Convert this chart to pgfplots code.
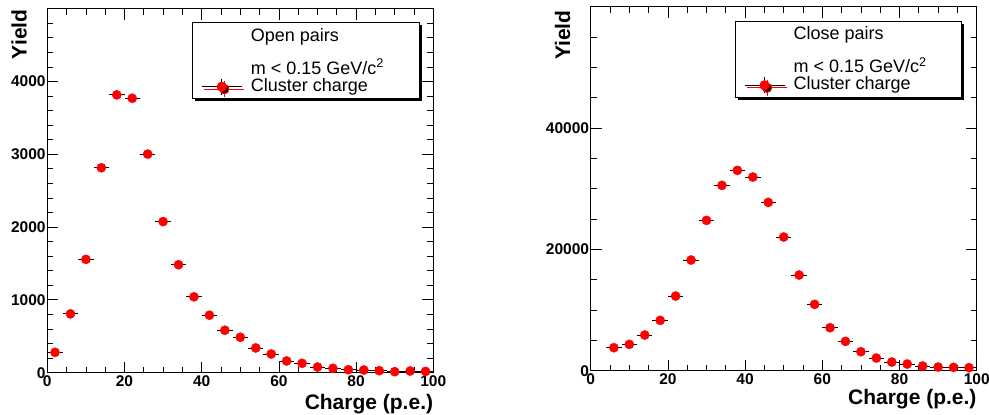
\documentclass[border=0pt]{standalone}
\usepackage{fontspec}
\setmainfont{Liberation Sans}
\usepackage{pgfplots}
\pgfplotsset{compat=1.18}
\usepackage{pgfplotstable}
\usetikzlibrary{shadows}

% open pairs, bins of 4 p.e.
\pgfplotstableread{
x y ey
2 280 17
6 808 28
10 1557 39
14 2815 53
18 3816 62
22 3770 61
26 3003 55
30 2076 46
34 1483 39
38 1042 32
42 790 28
46 583 24
50 487 22
54 340 18
58 257 16
62 161 13
66 129 11
70 78 9
74 60 8
78 41 6
82 37 6
86 28 5
90 14 4
94 23 5
98 18 4
}\opendata

% close pairs
\pgfplotstableread{
x y ey
6 3791 62
10 4341 66
14 5879 77
18 8297 91
22 12308 111
26 18242 135
30 24780 157
34 30549 175
38 33022 182
42 31923 179
46 27747 167
50 22033 148
54 15769 126
58 10934 105
62 7088 84
66 4835 70
70 3132 56
74 2088 46
78 1429 38
82 1099 33
86 769 28
90 604 25
94 549 23
98 495 22
}\closedata

\pgfplotsset{
  rootaxis/.style={
    scale only axis, width=386bp, height=364bp, anchor=south west,
    xmin=0, xmax=100, ymin=0,
    scaled x ticks=false, scaled y ticks=false,
    xtick={0,20,40,60,80,100}, xticklabels={0,20,40,60,80,100},
    minor xtick={5,10,15,25,30,35,45,50,55,65,70,75,85,90,95},
    axis line style={line width=1bp},
    tick style={black, line width=0.8bp},
    major tick length=11bp, minor tick length=6bp,
    ticklabel style={font=\bfseries\fontsize{15.5bp}{15.5bp}\selectfont},
    xticklabel style={inner sep=3bp},
    yticklabel style={inner sep=1.5bp},
    label style={font=\bfseries\fontsize{21bp}{21bp}\selectfont, inner sep=0pt},
    xlabel={Charge (p.e.)}, ylabel={Yield},
    ylabel style={anchor=base east},
    xlabel style={anchor=base east},
    legend style={draw=black, line width=1bp, fill=white,
      inner xsep=9bp, inner ysep=0pt, row sep=0pt, column sep=8.6bp,
      anchor=north west, cells={anchor=base west},
      nodes={inner sep=0pt, text depth={}, font=\fontsize{18bp}{18bp}\selectfont},
      drop shadow={shadow xshift=2.5bp, shadow yshift=-2.5bp, fill=black, opacity=1}},
  },
  rootkey/.style={legend image code/.code={
    \draw[black, line width=0.8bp] (0bp,4.4bp) -- (40bp,4.4bp);
    \draw[black, line width=0.8bp] (20bp,-3.6bp) -- (20bp,12.4bp);
    \fill[red] (20bp,4.4bp) circle (4.6bp);}},
  rootpts/.style={only marks, mark=*, mark size=4.6bp, red,
    mark options={fill=red, draw=red},
    error bars/.cd, x dir=both, x fixed=2, y dir=both, y explicit,
    error mark=none, error bar style={black, line width=0.8bp},
    /pgfplots/.cd, rootkey},
}
\newcommand{\rowa}[1]{\makebox[159.4bp][l]{\rule[-13.5bp]{0pt}{32bp}#1}}
\newcommand{\rowb}[1]{\makebox[159.4bp][l]{\rule[-2.5bp]{0pt}{22bp}#1}}
\newcommand{\rowc}[1]{\makebox[159.4bp][l]{\rule[-7.5bp]{0pt}{22bp}#1}}

\begin{document}
\begin{tikzpicture}
\path[use as bounding box] (0,0) rectangle (989bp,415bp);

\begin{axis}[rootaxis, at={(47.3bp,42.3bp)}, ymax=5000,
  ytick={0,1000,2000,3000,4000}, yticklabels={0,1000,2000,3000,4000},
  minor ytick={200,400,600,800,1200,1400,1600,1800,2200,2400,2600,2800,3200,3400,3600,3800,4200,4400,4600,4800},
  xlabel style={at={(axis description cs:1,-0.1007)}},
  ylabel style={at={(axis description cs:-0.0535,0.998)}},
  legend style={at={(axis description cs:0.3747,0.9631)}}]
\addlegendimage{empty legend}
\addlegendentry{\rowa{Open pairs}}
\addlegendimage{empty legend}
\addlegendentry{\rowb{m < 0.15 GeV/c\textsuperscript{2}}}
\addplot[rootpts] table[x=x, y=y, y error=ey] {\opendata};
\addlegendentry{\rowc{Cluster charge}}
\end{axis}

\begin{axis}[rootaxis, at={(590.7bp,44.3bp)}, ymax=60000,
  ytick={0,20000,40000}, yticklabels={0,20000,40000},
  minor ytick={5000,10000,15000,25000,30000,35000,45000,50000,55000},
  xlabel style={at={(axis description cs:1,-0.0942)}},
  ylabel style={at={(axis description cs:-0.0536,0.99)}},
  legend style={at={(axis description cs:0.373,0.9615)}}]
\addlegendimage{empty legend}
\addlegendentry{\rowa{Close pairs}}
\addlegendimage{empty legend}
\addlegendentry{\rowb{m < 0.15 GeV/c\textsuperscript{2}}}
\addplot[rootpts] table[x=x, y=y, y error=ey] {\closedata};
\addlegendentry{\rowc{Cluster charge}}
\end{axis}
\end{tikzpicture}
\end{document}
